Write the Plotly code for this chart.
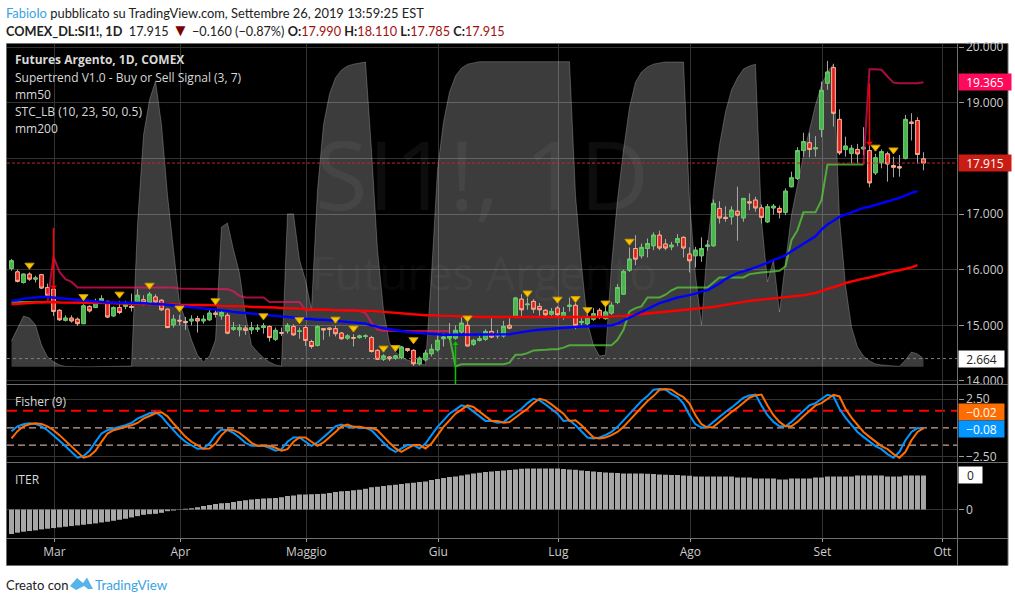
import plotly.graph_objects as go

W, H = 1015, 602

# ---------- data ----------
bars = list(range(153))
opens = [16.02,15.96,15.77,15.92,15.83,15.91,15.68,15.65,15.27,15.09,15.13,15.11,15.03,15.34,15.32,15.44,15.43,15.17,15.32,15.34,
 15.34,15.42,15.46,15.41,15.51,15.45,15.29,15.01,15.09,15.07,15.08,15.12,15.08,15.10,15.22,15.17,15.18,14.93,14.92,14.95,
 14.92,14.93,14.96,14.98,14.75,14.87,14.90,14.98,14.89,14.96,14.71,14.64,14.94,14.95,14.94,14.86,14.77,14.78,14.78,14.80,
 14.78,14.55,14.39,14.43,14.41,14.42,14.58,14.55,14.31,14.38,14.49,14.56,14.76,14.77,14.77,14.88,15.00,14.66,14.73,14.75,
 14.89,14.81,14.81,15.00,15.15,15.47,15.37,15.43,15.34,15.27,15.20,15.31,15.15,15.34,15.36,15.05,15.03,15.11,15.27,15.12,
 15.22,15.41,15.56,15.99,16.38,16.25,16.38,16.43,16.62,16.46,16.41,16.49,16.58,16.28,16.25,16.25,16.42,16.43,17.10,16.94,
 16.95,17.05,16.93,17.22,17.25,17.11,16.86,17.11,17.10,17.03,17.49,17.64,18.14,18.28,18.17,18.52,19.35,19.63,18.70,18.16,
 18.09,18.16,18.17,18.14,17.74,17.92,18.08,17.87,17.85,18.00,18.65,18.68,17.99]
closes = [16.16,15.79,15.92,15.83,15.85,15.67,15.54,15.25,15.10,15.13,15.08,15.03,15.35,15.26,15.41,15.48,15.15,15.32,15.23,15.38,
 15.32,15.54,15.41,15.56,15.42,15.28,14.96,15.11,15.08,15.05,15.11,15.08,15.11,15.22,15.20,15.23,14.86,14.96,14.96,14.91,
 14.96,14.95,14.99,14.78,14.91,14.86,15.00,14.83,14.90,14.73,14.62,14.98,14.92,14.93,14.85,14.76,14.81,14.77,14.81,14.81,
 14.53,14.39,14.45,14.40,14.45,14.61,14.55,14.31,14.41,14.50,14.57,14.73,14.79,14.82,14.91,15.04,14.63,14.73,14.76,14.89,
 14.79,14.84,14.98,14.95,15.49,15.28,15.38,15.29,15.28,15.19,15.25,15.19,15.23,15.36,15.00,15.07,15.14,15.21,15.14,15.24,
 15.36,15.68,15.97,16.19,16.19,16.40,16.47,16.62,16.39,16.39,16.44,16.56,16.39,16.16,16.35,16.38,16.44,17.19,16.93,16.92,
 17.07,16.98,17.28,17.20,17.11,16.94,17.13,17.14,17.03,17.41,17.65,18.14,18.30,18.16,18.19,19.22,19.55,18.81,18.10,18.22,
 18.18,18.08,18.20,17.56,18.01,18.12,17.90,17.84,17.83,18.70,18.63,18.07,17.915]
highs = [16.19,16.00,15.93,15.95,15.89,15.92,15.75,15.70,15.29,15.18,15.18,15.14,15.38,15.36,15.48,15.54,15.44,15.34,15.44,15.44,
 15.57,15.65,15.54,15.60,15.56,15.47,15.30,15.19,15.19,15.15,15.18,15.17,15.18,15.28,15.30,15.29,15.22,15.06,15.02,15.00,
 15.06,15.02,15.04,15.00,14.96,14.96,15.04,15.02,14.96,15.00,14.74,15.00,14.94,14.96,14.99,14.88,14.84,14.84,14.83,14.84,
 14.81,14.57,14.48,14.45,14.47,14.63,14.59,14.57,14.44,14.56,14.66,14.83,14.86,15.04,15.00,15.16,15.10,14.76,14.82,14.93,
 15.13,14.92,15.08,15.17,15.51,15.56,15.50,15.47,15.40,15.29,15.31,15.35,15.33,15.50,15.40,15.14,15.20,15.31,15.31,15.33,
 15.42,15.74,16.00,16.40,16.62,16.47,16.56,16.67,16.70,16.55,16.50,16.64,16.60,16.40,16.41,16.58,16.53,17.26,17.23,17.14,
 17.14,17.49,17.28,17.37,17.31,17.17,17.18,17.18,17.15,17.46,17.76,18.20,18.46,18.46,18.40,19.38,19.75,19.70,18.88,18.39,
 18.24,18.26,18.56,18.27,18.08,18.16,18.12,18.03,18.06,18.78,18.81,18.74,18.11]
lows = [15.98,15.77,15.75,15.80,15.77,15.66,15.51,15.17,15.08,15.07,15.05,14.99,15.03,15.23,15.31,15.42,15.13,15.15,15.20,15.29,
 15.25,15.38,15.36,15.36,15.38,15.26,14.95,14.96,15.00,14.92,15.00,14.87,15.03,15.08,15.14,15.10,14.84,14.90,14.80,14.83,
 14.84,14.88,14.85,14.71,14.72,14.81,14.85,14.81,14.76,14.63,14.58,14.62,14.74,14.80,14.80,14.74,14.74,14.62,14.76,14.76,
 14.51,14.38,14.36,14.36,14.38,14.39,14.52,14.27,14.28,14.35,14.44,14.53,14.62,14.73,14.74,14.84,14.62,14.63,14.71,14.72,
 14.77,14.76,14.78,14.93,15.13,15.15,15.28,15.22,15.17,15.13,15.17,15.14,15.10,15.25,14.93,14.99,14.96,15.08,15.11,15.10,
 15.19,15.38,15.55,15.96,16.08,16.20,16.22,16.35,16.35,16.35,16.35,16.42,16.22,15.95,16.04,16.14,16.34,16.41,16.83,16.86,
 16.81,16.52,16.86,17.07,17.04,16.83,16.84,16.99,16.92,16.98,17.48,17.61,18.03,18.02,18.03,18.38,19.23,18.57,18.06,18.03,
 17.91,17.90,18.06,17.48,17.70,17.82,17.58,17.66,17.67,17.98,18.32,17.90,17.785]

stc = [8.5,12.7,16.6,16.0,13.7,7.1,3.2,1.6,0.6,0.1,0,0,0,0,0,0,0,0,0,0,
 0.2,46.5,76,87.5,93.7,79.3,56.3,38.3,20.9,15.3,8.8,3.8,1.5,3.5,8.8,45.8,47.1,38.3,30.7,17,
 7.1,4.8,2.9,1.5,0.6,0.2,50.1,50.1,35,28.4,18.6,57.9,79.3,89.4,94.7,97.3,98.6,99.2,99.6,99.9,
 71,38.3,18.6,7.8,4.8,3.2,2.2,1.5,0.9,0.6,30,64.5,80.2,90,95.3,97.9,99.2,99.6,100,100,
 100,100,100,100,100,100,100,100,100,100,100,100,100,100,56.3,33.3,14.3,7.1,3.5,3.8,
 33.3,54.7,71,85,93.3,96.6,98.3,99.2,99.6,99.9,99.9,100,99.9,54.7,30,13.7,39.9,57.3,72.7,83.5,
 90.7,94.7,97.6,98.6,99.2,48.1,27.8,35,17.9,34.3,49.7,59.6,69.4,77.6,85.8,92.4,96.6,99.2,48.8,26.8,
 13,6.5,3.5,1.9,0.9,0.6,0.4,0.2,0.1,2.2,4.8,4.2,2.664]

mm50 = [15.44,15.45,15.48,15.49,15.51,15.51,15.51,15.50,15.49,15.48,15.47,15.46,15.44,15.43,15.42,15.42,15.41,15.41,15.41,15.41,
 15.41,15.40,15.40,15.39,15.39,15.38,15.37,15.36,15.34,15.33,15.33,15.32,15.31,15.30,15.28,15.27,15.26,15.24,15.23,15.22,
 15.21,15.20,15.19,15.18,15.17,15.16,15.15,15.14,15.13,15.11,15.11,15.10,15.10,15.09,15.09,15.08,15.07,15.06,15.05,15.03,
 15.00,14.97,14.95,14.93,14.91,14.90,14.88,14.87,14.86,14.85,14.84,14.83,14.83,14.83,14.83,14.83,14.83,14.83,14.83,14.83,
 14.83,14.83,14.83,14.84,14.86,14.88,14.90,14.91,14.92,14.93,14.94,14.95,14.96,14.97,14.98,14.98,14.98,14.99,14.99,14.99,
 15.00,15.03,15.09,15.14,15.19,15.24,15.29,15.35,15.40,15.43,15.47,15.50,15.52,15.54,15.57,15.61,15.63,15.69,15.75,15.83,
 15.89,15.94,15.97,16.00,16.04,16.08,16.13,16.17,16.21,16.26,16.33,16.40,16.47,16.53,16.60,16.72,16.81,16.88,16.95,16.99,
 17.03,17.07,17.11,17.13,17.16,17.20,17.23,17.25,17.29,17.33,17.38,17.41,None]
mm200 = [15.38,15.39,15.39,15.40,15.41,15.41,15.42,15.42,15.41,15.41,15.41,15.41,15.41,15.40,15.40,15.40,15.40,15.40,15.39,15.39,
 15.39,15.39,15.39,15.38,15.38,15.38,15.38,15.38,15.37,15.37,15.37,15.37,15.36,15.36,15.36,15.35,15.35,15.35,15.34,15.34,
 15.33,15.33,15.32,15.32,15.32,15.31,15.31,15.30,15.30,15.29,15.29,15.28,15.28,15.28,15.27,15.27,15.27,15.26,15.26,15.26,
 15.26,15.25,15.24,15.23,15.22,15.21,15.20,15.19,15.18,15.18,15.18,15.17,15.17,15.17,15.16,15.16,15.16,15.15,15.15,15.15,
 15.15,15.14,15.14,15.14,15.14,15.14,15.14,15.14,15.14,15.14,15.14,15.14,15.14,15.14,15.14,15.14,15.14,15.14,15.15,15.15,
 15.16,15.16,15.17,15.18,15.19,15.20,15.21,15.22,15.23,15.24,15.25,15.27,15.28,15.29,15.30,15.31,15.32,15.33,15.35,15.37,
 15.39,15.41,15.43,15.44,15.45,15.46,15.47,15.48,15.49,15.50,15.51,15.52,15.54,15.56,15.58,15.62,15.65,15.69,15.72,15.76,
 15.79,15.82,15.84,15.86,15.89,15.92,15.94,15.97,15.99,16.01,16.04,16.08,None]

st_up = [15.42,15.42,15.41,15.41,15.41,15.42,15.42] + [None]*66 + [14.80,14.26,14.30,14.30,14.30,14.30,14.30,14.30,14.30,14.30,14.33,14.47,14.47,14.50,14.55,14.55,14.56,14.57,14.57,14.60,
 14.64,14.64,14.64,14.64,14.64,14.64,14.64,14.64,14.74,14.92,15.25,15.31,15.34,15.50,15.50,15.50,15.55,15.63,15.68,15.68,
 15.68,15.68,15.68,15.68,15.77,15.86,15.86,15.86,15.86,15.86,15.92,15.94,15.95,15.96,15.97,15.98,16.06,16.53,
 16.71,17.03,17.03,17.03,17.25,17.89,17.89,17.89,17.89,17.89,17.89,17.89] + [None]*10
st_down = [None]*6 + [15.42,16.23,15.96,15.83,15.78,15.68,15.68,15.68,15.68,15.68,15.68,15.68,15.68,15.68,15.68,15.68,15.68,15.68,15.68,15.68,
 15.68,15.68,15.66,15.66,15.66,15.66,15.66,15.66,15.66,15.66,15.65,15.61,15.53,15.50,15.50,15.50,15.50,15.42,15.42,15.42,
 15.42,15.42,15.42,15.28,15.28,15.27,15.27,15.27,15.27,15.27,15.27,15.27,15.26,15.22,15.05,14.92,14.90,14.90,14.90,14.90,
 14.90,14.90,14.90,14.90,14.90,14.90,14.90,14.90] + [None]*68 + [17.89,19.60,19.60,19.59,19.47,19.36,19.35,19.35,19.35,19.35,19.365]

fisher = [-0.29,0.14,0.32,0.40,0.35,0.14,-0.20,-0.63,-1.13,-1.59,-2.14,-2.60,-2.45,-1.99,-1.21,-0.49,-0.20,-0.06,0.09,0.23,
 0.43,0.81,1.04,1.27,1.36,1.01,0.38,-0.20,-0.78,-1.21,-1.50,-1.82,-1.79,-1.36,-0.63,-0.14,-0.20,-0.43,-0.84,-1.30,
 -1.56,-1.59,-1.56,-1.73,-1.99,-1.85,-1.21,-0.84,-0.84,-1.21,-1.56,-1.27,-0.84,-0.35,0.14,0.29,0.09,0.09,0,0,
 -0.20,-0.78,-1.30,-1.79,-2.08,-1.79,-1.50,-1.50,-1.79,-1.36,-0.63,0.09,0.66,1.24,1.59,1.96,1.82,1.39,1.01,0.61,
 0.61,0.46,0.52,0.95,1.30,1.67,2.16,2.54,2.40,2.05,1.67,1.24,0.61,0.66,0.23,-0.35,-0.84,-0.92,-0.84,-0.63,
 -0.35,0.09,0.66,1.24,1.82,2.34,2.77,3.32,3.38,3.32,2.97,2.68,2.11,1.10,0.32,0.03,0.09,0.52,1.01,1.39,
 1.76,2.16,2.63,2.83,2.91,1.96,1.10,0.52,0.14,0.14,0.52,1.01,1.47,1.96,2.16,2.54,2.89,2.74,1.67,0.89,
 0.23,-0.35,-0.78,-1.21,-1.59,-1.85,-2.28,-2.60,-2.08,-1.07,-0.35,-0.02,-0.08]
fisher_trigger = [-0.92,-0.29,0.14,0.32,0.40,0.35,0.14,-0.20,-0.63,-1.13,-1.59,-2.14,-2.60,-2.45,-1.99,-1.21,-0.49,-0.20,-0.06,0.09,
 0.23,0.43,0.81,1.04,1.27,1.36,1.01,0.38,-0.20,-0.78,-1.21,-1.50,-1.82,-1.79,-1.36,-0.63,-0.14,-0.20,-0.43,-0.84,
 -1.30,-1.56,-1.59,-1.56,-1.73,-1.99,-1.85,-1.21,-0.84,-0.84,-1.21,-1.56,-1.27,-0.84,-0.35,0.14,0.29,0.09,0.09,0,
 0,-0.20,-0.78,-1.30,-1.79,-2.08,-1.79,-1.50,-1.50,-1.79,-1.36,-0.63,0.09,0.66,1.24,1.59,1.96,1.82,1.39,1.01,
 0.61,0.61,0.46,0.52,0.95,1.30,1.67,2.16,2.54,2.40,2.05,1.67,1.24,0.61,0.66,0.23,-0.35,-0.84,-0.92,-0.84,
 -0.63,-0.35,0.09,0.66,1.24,1.82,2.34,2.77,3.32,3.38,3.32,2.97,2.68,2.11,1.10,0.32,0.03,0.09,0.52,1.01,
 1.39,1.76,2.16,2.63,2.83,2.91,1.96,1.10,0.52,0.14,0.14,0.52,1.01,1.47,1.96,2.16,2.54,2.89,2.74,1.67,
 0.89,0.23,-0.35,-0.78,-1.21,-1.59,-1.85,-2.28,-2.60,-2.08,-1.07,-0.35,-0.02]

iter_vals = [-0.74,-0.70,-0.67,-0.65,-0.63,-0.60,-0.58,-0.56,-0.54,-0.52,-0.50,-0.48,-0.46,-0.44,-0.42,-0.39,-0.37,-0.34,-0.31,-0.28,
 -0.24,-0.20,-0.16,-0.14,-0.13,-0.10,-0.05,-0.03,0.01,0.02,0.04,0.07,0.11,0.14,0.17,0.19,0.20,0.23,0.26,0.28,
 0.30,0.32,0.33,0.34,0.35,0.37,0.41,0.42,0.45,0.45,0.46,0.47,0.48,0.50,0.53,0.55,0.56,0.58,0.60,0.63,
 0.67,0.69,0.71,0.73,0.75,0.77,0.79,0.81,0.83,0.85,0.89,0.92,0.95,0.98,1.00,1.03,1.06,1.09,1.11,1.13,
 1.15,1.16,1.18,1.19,1.21,1.23,1.24,1.24,1.24,1.24,1.24,1.24,1.22,1.21,1.20,1.18,1.16,1.15,1.13,1.12,
 1.11,1.10,1.09,1.09,1.09,1.09,1.08,1.07,1.06,1.05,1.04,1.04,1.03,1.02,1.00,1.00,1.00,1.00,1.00,1.00,
 1.00,0.97,0.97,0.97,0.94,0.94,0.94,0.94,0.91,0.91,0.94,0.94,0.94,0.94,0.97,0.97,1.00,1.00,1.00,1.00,
 1.00,1.03,1.03,1.03,1.03,1.03,1.00,1.00,1.00,1.03,1.03,1.03,1.03]

signal_bars = [3,12,18,23,28,34,42,48,54,57,62,64,67,76,86,91,94,96,99,103,144,147]
signal_prices = [16.08,15.515,15.56,15.72,15.31,15.44,15.17,15.10,15.11,14.95,14.59,14.60,14.74,15.13,15.58,15.47,15.48,15.28,15.40,16.51,18.20,18.15]

sell_bars = [7, 7]
sell_prices = [16.75, 15.69]
sell2_bars = [143, 143]
sell2_prices = [19.35, 18.27]
buy_bars = [74, 74]
buy_prices = [13.946, 14.67]

month_pos = [7.15,28.15,49.15,71.15,91.15,113.15,135.15,155.15]
month_labels = ["Mar","Apr","Maggio","Giu","Lug","Ago","Set","Ott"]
price_ticks = [14,15,16,17,18,19,20]
price_tick_labels = ["14.000","15.000","16.000","17.000","","19.000","20.000"]
fisher_ticks = [-2.5,2.5]
fisher_tick_text = ["\u22122.50","2.50"]
last_close = 17.915
last_super = 19.365
last_stc = 2.664
last_fisher = -0.08
last_trigger = -0.02
last_iter = 1.03

# ---------- geometry helpers ----------
def px(x): return x / W
def py(y): return 1 - y / H
LEFT, RIGHT, EDGE = 7, 957.5, 1008

FONT = "Open Sans"
HEAD = "Lato"

fig = go.Figure()

# STC area on the base axis (behind everything)
fig.add_trace(go.Scatter(x=bars, y=stc, mode="lines", yaxis="y", xaxis="x",
    line=dict(color="rgba(255,255,255,0.24)", width=1), fill="tozeroy",
    fillcolor="rgba(255,255,255,0.235)", hoverinfo="skip"))

# wicks, then bodies
fig.add_trace(go.Candlestick(x=bars, open=opens, high=highs, low=lows, close=closes, yaxis="y2", xaxis="x",
    whiskerwidth=0,
    increasing=dict(line=dict(color="#a8a8a8", width=1), fillcolor="rgba(0,0,0,0)"),
    decreasing=dict(line=dict(color="#a8a8a8", width=1), fillcolor="rgba(0,0,0,0)"),
    hoverinfo="skip"))
body_hi = [max(o, c) for o, c in zip(opens, closes)]
body_lo = [min(o, c) for o, c in zip(opens, closes)]
fig.add_trace(go.Candlestick(x=bars, open=opens, high=body_hi, low=body_lo, close=closes, yaxis="y2", xaxis="x",
    whiskerwidth=0,
    increasing=dict(line=dict(color="#60d060", width=1), fillcolor="#4caf50"),
    decreasing=dict(line=dict(color="#ffb08c", width=1), fillcolor="#e01c1c"),
    hoverinfo="skip"))

# supertrend
fig.add_trace(go.Scatter(x=bars, y=st_up, mode="lines", yaxis="y2", xaxis="x",
    line=dict(color="rgba(90,215,60,0.70)", width=2), hoverinfo="skip"))
fig.add_trace(go.Scatter(x=bars, y=st_down, mode="lines", yaxis="y2", xaxis="x",
    line=dict(color="rgba(255,20,100,0.66)", width=2), hoverinfo="skip"))
# averages
fig.add_trace(go.Scatter(x=bars, y=mm200, mode="lines", yaxis="y2", xaxis="x",
    line=dict(color="#ff0000", width=2.4), hoverinfo="skip"))
fig.add_trace(go.Scatter(x=bars, y=mm50, mode="lines", yaxis="y2", xaxis="x",
    line=dict(color="#0000ff", width=2.4), hoverinfo="skip"))
# signals
fig.add_trace(go.Scatter(x=signal_bars, y=signal_prices, mode="markers", yaxis="y2", xaxis="x",
    marker=dict(symbol="triangle-down", size=8, color="#ffc400", line=dict(color="#c79a00", width=1)),
    hoverinfo="skip"))
for bx, by, col in [(sell_bars, sell_prices, "#ff0000"),
                    (sell2_bars, sell2_prices, "#ff0000"),
                    (buy_bars, buy_prices, "#00c800")]:
    fig.add_trace(go.Scatter(x=bx, y=by, mode="lines", yaxis="y2", xaxis="x",
        line=dict(color=col, width=1.5), hoverinfo="skip"))
fig.add_trace(go.Scatter(x=[sell_bars[1], sell2_bars[1]], y=[sell_prices[1], sell2_prices[1]], mode="markers",
    yaxis="y2", xaxis="x", marker=dict(symbol="triangle-down", size=6, color="#ff0000"), hoverinfo="skip"))
fig.add_trace(go.Scatter(x=[buy_bars[1]], y=[buy_prices[1]], mode="markers",
    yaxis="y2", xaxis="x", marker=dict(symbol="triangle-up", size=5, color="#00c800"), hoverinfo="skip"))

# Fisher
fig.add_trace(go.Scatter(x=bars, y=fisher, mode="lines", yaxis="y3", xaxis="x",
    line=dict(color="#0496ff", width=2), hoverinfo="skip"))
fig.add_trace(go.Scatter(x=bars, y=fisher_trigger, mode="lines", yaxis="y3", xaxis="x",
    line=dict(color="#ff6d00", width=2), hoverinfo="skip"))

# ITER
fig.add_trace(go.Bar(x=bars, y=iter_vals, yaxis="y4", xaxis="x",
    marker=dict(color="#a6a6a6", line=dict(width=0)), hoverinfo="skip"))

GRID = "#333333"
TICK = "#cccccc"
tickfont = dict(family=FONT, size=12, color=TICK)

shapes = [
    dict(type="rect", xref="paper", yref="paper", x0=px(6.5), x1=px(EDGE), y0=py(565.5), y1=py(43.5),
         fillcolor="#000000", line=dict(color="#6e6e6e", width=1), layer="below"),
    dict(type="line", xref="paper", yref="paper", x0=px(RIGHT), x1=px(RIGHT), y0=py(565.5), y1=py(43.5),
         line=dict(color="#6e6e6e", width=1), layer="above"),
    dict(type="line", xref="paper", yref="paper", x0=px(6.5), x1=px(EDGE), y0=py(384.5), y1=py(384.5),
         line=dict(color="#6e6e6e", width=1), layer="above"),
    dict(type="line", xref="paper", yref="paper", x0=px(6.5), x1=px(EDGE), y0=py(462.5), y1=py(462.5),
         line=dict(color="#6e6e6e", width=1), layer="above"),
    dict(type="line", xref="paper", yref="paper", x0=px(6.5), x1=px(EDGE), y0=py(538.5), y1=py(538.5),
         line=dict(color="#6e6e6e", width=1), layer="above"),
    # price line, STC line
    dict(type="line", xref="paper", yref="y2", x0=px(LEFT), x1=px(RIGHT), y0=last_close, y1=last_close,
         line=dict(color="#c62020", width=1, dash="3px,2px"), layer="above"),
    dict(type="line", xref="paper", yref="y", x0=px(LEFT), x1=px(RIGHT), y0=last_stc, y1=last_stc,
         line=dict(color="#808080", width=1, dash="3px,3px"), layer="above"),
    # Fisher levels
    dict(type="line", xref="paper", yref="y3", x0=px(LEFT), x1=px(RIGHT), y0=1.5, y1=1.5,
         line=dict(color="#ff0000", width=2, dash="10px,6px"), layer="below"),
    dict(type="line", xref="paper", yref="y3", x0=px(LEFT), x1=px(RIGHT), y0=0, y1=0,
         line=dict(color="#ffccbc", width=1, dash="7px,4px"), layer="below"),
    dict(type="line", xref="paper", yref="y3", x0=px(LEFT), x1=px(RIGHT), y0=-1.5, y1=-1.5,
         line=dict(color="#ffccbc", width=1, dash="7px,4px"), layer="below"),
    # TradingView logo
    dict(type="path", xref="paper", yref="paper", fillcolor="#55b4ea", line=dict(width=0),
         path="M %.4f %.4f L %.4f %.4f L %.4f %.4f L %.4f %.4f L %.4f %.4f L %.4f %.4f L %.4f %.4f L %.4f %.4f Z" % (
             px(70), py(586), px(77), py(578), px(83), py(583), px(87), py(577.5),
             px(93), py(589), px(88), py(589), px(84), py(586), px(76), py(590))),
]

def label(x, y, text, size=12, color="#d8d8d8", family=FONT, xref="paper", yref="paper", **kw):
    return dict(x=x, y=y, text=text, xref=xref, yref=yref, showarrow=False, xanchor="left", yanchor="middle",
                font=dict(family=family, size=size, color=color), align="left", **kw)

def box(y, yref, text, bg, fg, width, yshift=0):
    return dict(x=px(RIGHT) , y=y, xref="paper", yref=yref, text=text, showarrow=False, xanchor="left",
                yanchor="middle", width=width, height=16, bgcolor=bg, align="center", borderpad=0,
                yshift=yshift, font=dict(family=FONT, size=12, color=fg))

RED_T = "#a01010"
head2 = ("<b>COMEX_DL:SI1!, 1D</b>&nbsp; 17.915 <span style='color:#7d0000;font-size:17px'>\u25bc</span> \u22120.160 (\u22120.87%) "
         f"<b>O:</b><span style='color:{RED_T}'>17.990</span> <b>H:</b><span style='color:{RED_T}'>18.110</span> "
         f"<b>L:</b><span style='color:{RED_T}'>17.785</span> <b>C:</b><span style='color:{RED_T}'>17.915</span>")
annotations = [
    label(px(4), py(12.5), "<span style='color:#3aa3e3'>FabioIo</span> pubblicato su TradingView.com, Settembre 26, 2019 13:59:25 EST",
          size=12.9, color="#222222", family=HEAD),
    label(px(4), py(30), head2, size=12.7, color="#222222", family=HEAD),
    label(px(4), py(584.5), "Creato con", size=13, color="#222222", family=HEAD),
    label(px(92.5), py(584.5), "TradingView", size=13.4, color="#3aa3e3", family=HEAD),
    label(px(13), py(60), "<b>Futures Argento, 1D, COMEX</b>"),
    label(px(13), py(77), "Supertrend V1.0 - Buy or Sell Signal (3, 7)"),
    label(px(13), py(94), "mm50"),
    label(px(13), py(111), "STC_LB (10, 23, 50, 0.5)"),
    label(px(13), py(128), "mm200"),
    label(px(13), py(401), "Fisher (9)"),
    label(px(13), py(479), "ITER"),
    dict(x=px(482), y=py(172), xref="paper", yref="paper", text="SI1!, 1D", showarrow=False, xanchor="center",
         yanchor="middle", font=dict(family=FONT, size=96, color="rgba(255,255,255,0.05)")),
    dict(x=px(484), y=py(272), xref="paper", yref="paper", text="Futures Argento", showarrow=False, xanchor="center",
         yanchor="middle", font=dict(family=FONT, size=46, color="rgba(255,255,255,0.05)")),
    box(last_super, "y2", "19.365", "#ff0a5a", "#ffffff", 52),
    box(last_close, "y2", "17.915", "#c91c14", "#ffffff", 52),
    box(last_stc, "y", "2.664", "#ffffff", "#222222", 45),
    box(last_trigger, "y3", "\u22120.02", "#ff6d00", "#ffffff", 45, yshift=16.5),
    box(last_fisher, "y3", "\u22120.08", "#0496ff", "#ffffff", 45),
    box(last_iter, "y4", "0", "#ffffff", "#222222", 23),
]

fig.update_layout(
    width=W, height=H, margin=dict(l=0, r=0, t=0, b=0, pad=0, autoexpand=False),
    paper_bgcolor="#ffffff", plot_bgcolor="rgba(0,0,0,0)", showlegend=False, hovermode=False,
    bargap=0.17, boxgap=0.15, shapes=shapes, annotations=annotations,
    xaxis=dict(domain=[px(LEFT), px(RIGHT)], range=[-0.75, 157.67], anchor="y4", tickmode="array",
               tickvals=month_pos, ticktext=month_labels, showgrid=True, gridcolor=GRID, gridwidth=1,
               ticks="outside", ticklen=3, tickcolor="#9a9a9a", tickfont=tickfont,
               zeroline=False, showline=False, rangeslider=dict(visible=False), fixedrange=True),
    yaxis=dict(domain=[py(384), py(44)], range=[-5.67, 105.8], anchor="x", showticklabels=False,
               showgrid=False, zeroline=False, ticks="", fixedrange=True),
    yaxis2=dict(domain=[py(384), py(44)], overlaying="y", side="right", anchor="x",
                range=[13.946, 20.054], tickmode="array", tickvals=price_ticks, ticktext=price_tick_labels,
                showgrid=True, gridcolor=GRID, zeroline=False, ticks="outside", ticklen=5, tickcolor="#9a9a9a",
                tickfont=tickfont, fixedrange=True),
    yaxis3=dict(domain=[py(462), py(384.5)], side="right", anchor="x", range=[-2.97, 3.78],
                tickmode="array", tickvals=fisher_ticks, ticktext=fisher_tick_text, showgrid=True, gridcolor=GRID,
                zeroline=False, ticks="outside", ticklen=5, tickcolor="#9a9a9a", tickfont=tickfont, fixedrange=True),
    yaxis4=dict(domain=[py(538), py(462.5)], side="right", anchor="x", range=[-0.86, 1.42],
                tickmode="array", tickvals=[0], ticktext=["0"], showgrid=True, gridcolor=GRID,
                zeroline=False, ticks="outside", ticklen=5, tickcolor="#9a9a9a", tickfont=tickfont, fixedrange=True),
)

fig.write_html("out.html", config=dict(displayModeBar=False, staticPlot=True),
               post_script="document.body.style.margin='0';document.documentElement.style.overflow='hidden';")
